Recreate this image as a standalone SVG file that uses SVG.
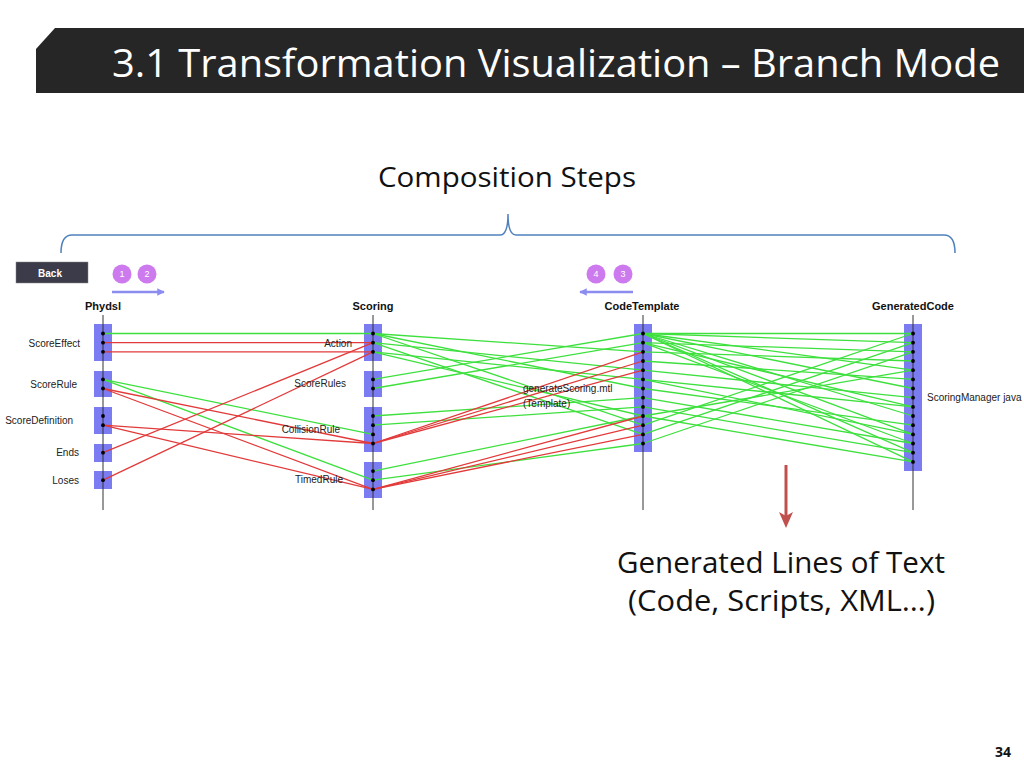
<svg xmlns="http://www.w3.org/2000/svg" width="1024" height="768" viewBox="0 0 1024 768">
<style>
.lbl{font-family:"Liberation Sans",Arial,sans-serif;font-size:10px;fill:#222}
.hdr{font-family:"Liberation Sans",Arial,sans-serif;font-size:11px;font-weight:bold;fill:#111;text-anchor:middle}
.blk{fill:#7b7bf2}
.axis{stroke:#333;stroke-width:1}
.g line{stroke:#3ee03e;stroke-width:1.3}
.r line{stroke:#e23a3a;stroke-width:1.3}
.dot{fill:#000}
.big{font-family:"Open Sans","Liberation Sans",sans-serif;fill:#111}
.circ{fill:#cc7aee}
.num{font-family:"Liberation Sans",Arial,sans-serif;font-size:9px;fill:#fff;text-anchor:middle}
</style>
<defs>
<marker id="ah" viewBox="0 0 10 10" refX="9" refY="5" markerWidth="3" markerHeight="3" orient="auto"><path d="M0,0 L10,5 L0,10 z" fill="#8c8cf0"/></marker>
</defs>
<rect width="1024" height="768" fill="#fff"/>
<g id="header">
<polygon points="55,28 1024,28 1024,93 36,93 36,49" fill="#262626"/>
<text x="112" y="77" font-family="'Open Sans','Liberation Sans',sans-serif" font-size="39" fill="#fff" textLength="888" lengthAdjust="spacingAndGlyphs">3.1 Transformation Visualization – Branch Mode</text>
</g>
<g id="composition">
<text class="big" x="378" y="187" font-size="28" textLength="258" lengthAdjust="spacingAndGlyphs">Composition Steps</text>
<path d="M61,253 Q61,235 72,235 L500,235 Q508,235 508,214 Q508,235 516,235 L944,235 Q955,235 955,253" fill="none" stroke="#4f81bd" stroke-width="1.5"/>
</g>
<g id="back"><rect x="16" y="262" width="72" height="21" fill="#3b3b4a" stroke="#888" stroke-width="0.5"/><text x="50" y="277" font-family="'Liberation Sans',Arial,sans-serif" font-size="10" font-weight="bold" fill="#fff" text-anchor="middle">Back</text></g>
<g id="steps">
<circle class="circ" cx="122" cy="274" r="9.5"/><text class="num" x="122" y="277">1</text>
<circle class="circ" cx="147" cy="274" r="9.5"/><text class="num" x="147" y="277">2</text>
<line x1="112" y1="292" x2="164" y2="292" stroke="#8c8cf0" stroke-width="2.5" marker-end="url(#ah)"/>
<circle class="circ" cx="596" cy="274" r="9.5"/><text class="num" x="596" y="277">4</text>
<circle class="circ" cx="623" cy="274" r="9.5"/><text class="num" x="623" y="277">3</text>
<line x1="633" y1="292" x2="580" y2="292" stroke="#8c8cf0" stroke-width="2.5" marker-end="url(#ah)"/>
</g>
<g id="phydsl">
<text class="hdr" x="103" y="310">Phydsl</text>
<rect class="blk" x="94" y="324" width="18" height="37"/>
<rect class="blk" x="94" y="371" width="18" height="26"/>
<rect class="blk" x="94" y="407" width="18" height="27"/>
<rect class="blk" x="94" y="444" width="18" height="18"/>
<rect class="blk" x="94" y="471" width="18" height="18"/>
<line class="axis" x1="103" y1="315" x2="103" y2="510"/>
<text class="lbl" x="80" y="347" text-anchor="end">ScoreEffect</text>
<text class="lbl" x="77" y="388" text-anchor="end">ScoreRule</text>
<text class="lbl" x="73" y="424" text-anchor="end">ScoreDefinition</text>
<text class="lbl" x="79" y="456" text-anchor="end">Ends</text>
<text class="lbl" x="79" y="484" text-anchor="end">Loses</text>
</g>
<g id="scoring">
<text class="hdr" x="373" y="310">Scoring</text>
<rect class="blk" x="364" y="324" width="18" height="37"/>
<rect class="blk" x="364" y="371" width="18" height="26"/>
<rect class="blk" x="364" y="407" width="18" height="45"/>
<rect class="blk" x="364" y="462" width="18" height="36"/>
<line class="axis" x1="373" y1="315" x2="373" y2="510"/>
</g>
<g id="codetemplate">
<text class="hdr" x="642" y="310">CodeTemplate</text>
<rect class="blk" x="634" y="324" width="18" height="128"/>
<line class="axis" x1="643" y1="315" x2="643" y2="510"/>
</g>
<g id="generatedcode">
<text class="hdr" x="913" y="310">GeneratedCode</text>
<rect class="blk" x="904" y="324" width="18" height="147"/>
<line class="axis" x1="913" y1="315" x2="913" y2="510"/>
<text class="lbl" x="927" y="401">ScoringManager java</text>
</g>
<g id="connectors">
<g class="g">
<line x1="103" y1="333.5" x2="373" y2="333.5"/>
<line x1="103" y1="379.4" x2="373" y2="434.4"/>
<line x1="103" y1="379.4" x2="373" y2="480.2"/>
<line x1="373" y1="333.5" x2="643" y2="351.8"/>
<line x1="373" y1="333.5" x2="643" y2="388.5"/>
<line x1="373" y1="333.5" x2="643" y2="425.2"/>
<line x1="373" y1="342.7" x2="643" y2="370.2"/>
<line x1="373" y1="342.7" x2="643" y2="434.4"/>
<line x1="373" y1="351.8" x2="643" y2="379.4"/>
<line x1="373" y1="351.8" x2="643" y2="416"/>
<line x1="373" y1="379.4" x2="643" y2="333.5"/>
<line x1="373" y1="388.5" x2="643" y2="342.7"/>
<line x1="373" y1="416" x2="643" y2="397.7"/>
<line x1="373" y1="425.2" x2="643" y2="406.9"/>
<line x1="373" y1="471.1" x2="643" y2="416"/>
<line x1="373" y1="480.2" x2="643" y2="443.5"/>
<line x1="643" y1="333.5" x2="913" y2="333.5"/>
<line x1="643" y1="333.5" x2="913" y2="342.7"/>
<line x1="643" y1="333.5" x2="913" y2="370.2"/>
<line x1="643" y1="333.5" x2="913" y2="388.5"/>
<line x1="643" y1="333.5" x2="913" y2="416"/>
<line x1="643" y1="333.5" x2="913" y2="434.4"/>
<line x1="643" y1="333.5" x2="913" y2="452.7"/>
<line x1="643" y1="333.5" x2="913" y2="461.9"/>
<line x1="643" y1="342.7" x2="913" y2="351.8"/>
<line x1="643" y1="342.7" x2="913" y2="406.9"/>
<line x1="643" y1="342.7" x2="913" y2="443.5"/>
<line x1="643" y1="351.8" x2="913" y2="361"/>
<line x1="643" y1="361" x2="913" y2="379.4"/>
<line x1="643" y1="370.2" x2="913" y2="397.7"/>
<line x1="643" y1="379.4" x2="913" y2="406.9"/>
<line x1="643" y1="379.4" x2="913" y2="434.4"/>
<line x1="643" y1="388.5" x2="913" y2="425.2"/>
<line x1="643" y1="397.7" x2="913" y2="443.5"/>
<line x1="643" y1="406.9" x2="913" y2="452.7"/>
<line x1="643" y1="416" x2="913" y2="461.9"/>
<line x1="643" y1="416" x2="913" y2="370.2"/>
<line x1="643" y1="425.2" x2="913" y2="333.5"/>
<line x1="643" y1="434.4" x2="913" y2="342.7"/>
<line x1="643" y1="443.5" x2="913" y2="351.8"/>
</g>
<g class="r">
<line x1="103" y1="342.7" x2="373" y2="342.7"/>
<line x1="103" y1="351.8" x2="373" y2="351.8"/>
<line x1="103" y1="388.5" x2="373" y2="443.5"/>
<line x1="103" y1="388.5" x2="373" y2="489.4"/>
<line x1="103" y1="425.2" x2="373" y2="443.5"/>
<line x1="103" y1="425.2" x2="373" y2="489.4"/>
<line x1="103" y1="452.7" x2="373" y2="342.7"/>
<line x1="103" y1="480.2" x2="373" y2="351.8"/>
<line x1="373" y1="443.5" x2="643" y2="351.8"/>
<line x1="373" y1="443.5" x2="643" y2="361"/>
<line x1="373" y1="443.5" x2="643" y2="370.2"/>
<line x1="373" y1="489.4" x2="643" y2="416"/>
<line x1="373" y1="489.4" x2="643" y2="425.2"/>
<line x1="373" y1="489.4" x2="643" y2="434.4"/>
</g>
</g>
<g id="dots">
<circle class="dot" cx="103" cy="333.5" r="1.9"/><circle class="dot" cx="103" cy="342.7" r="1.9"/><circle class="dot" cx="103" cy="351.8" r="1.9"/>
<circle class="dot" cx="103" cy="379.4" r="1.9"/><circle class="dot" cx="103" cy="388.5" r="1.9"/>
<circle class="dot" cx="103" cy="416" r="1.9"/><circle class="dot" cx="103" cy="425.2" r="1.9"/>
<circle class="dot" cx="103" cy="452.7" r="1.9"/><circle class="dot" cx="103" cy="480.2" r="1.9"/>
<circle class="dot" cx="373" cy="333.5" r="1.9"/><circle class="dot" cx="373" cy="342.7" r="1.9"/><circle class="dot" cx="373" cy="351.8" r="1.9"/>
<circle class="dot" cx="373" cy="379.4" r="1.9"/><circle class="dot" cx="373" cy="388.5" r="1.9"/>
<circle class="dot" cx="373" cy="416" r="1.9"/><circle class="dot" cx="373" cy="425.2" r="1.9"/><circle class="dot" cx="373" cy="434.4" r="1.9"/><circle class="dot" cx="373" cy="443.5" r="1.9"/>
<circle class="dot" cx="373" cy="471.1" r="1.9"/><circle class="dot" cx="373" cy="480.2" r="1.9"/><circle class="dot" cx="373" cy="489.4" r="1.9"/>
<circle class="dot" cx="643" cy="333.5" r="1.9"/><circle class="dot" cx="643" cy="342.7" r="1.9"/><circle class="dot" cx="643" cy="351.8" r="1.9"/><circle class="dot" cx="643" cy="361" r="1.9"/><circle class="dot" cx="643" cy="370.2" r="1.9"/><circle class="dot" cx="643" cy="379.4" r="1.9"/><circle class="dot" cx="643" cy="388.5" r="1.9"/><circle class="dot" cx="643" cy="397.7" r="1.9"/><circle class="dot" cx="643" cy="406.9" r="1.9"/><circle class="dot" cx="643" cy="416" r="1.9"/><circle class="dot" cx="643" cy="425.2" r="1.9"/><circle class="dot" cx="643" cy="434.4" r="1.9"/><circle class="dot" cx="643" cy="443.5" r="1.9"/>
<circle class="dot" cx="913" cy="333.5" r="1.9"/><circle class="dot" cx="913" cy="342.7" r="1.9"/><circle class="dot" cx="913" cy="351.8" r="1.9"/><circle class="dot" cx="913" cy="361" r="1.9"/><circle class="dot" cx="913" cy="370.2" r="1.9"/><circle class="dot" cx="913" cy="379.4" r="1.9"/><circle class="dot" cx="913" cy="388.5" r="1.9"/><circle class="dot" cx="913" cy="397.7" r="1.9"/><circle class="dot" cx="913" cy="406.9" r="1.9"/><circle class="dot" cx="913" cy="416" r="1.9"/><circle class="dot" cx="913" cy="425.2" r="1.9"/><circle class="dot" cx="913" cy="434.4" r="1.9"/><circle class="dot" cx="913" cy="443.5" r="1.9"/><circle class="dot" cx="913" cy="452.7" r="1.9"/><circle class="dot" cx="913" cy="461.9" r="1.9"/>
</g>
<g id="scoring-labels">
<text class="lbl" x="352" y="347" text-anchor="end">Action</text>
<text class="lbl" x="346" y="387" text-anchor="end">ScoreRules</text>
<text class="lbl" x="340" y="433" text-anchor="end">CollisionRule</text>
<text class="lbl" x="343" y="483" text-anchor="end">TimedRule</text>
<text class="lbl" x="523" y="392">generateScoring.mtl</text>
<text class="lbl" x="523" y="407">(Template)</text>
</g>
<g id="generated-note">
<line x1="786" y1="465" x2="786" y2="516" stroke="#c0504d" stroke-width="3"/>
<polygon points="779,512 786,516 793,512 786,528" fill="#c0504d"/>
<text class="big" x="617" y="573" font-size="29" textLength="328" lengthAdjust="spacingAndGlyphs">Generated Lines of Text</text>
<text class="big" x="628" y="611" font-size="29" textLength="307" lengthAdjust="spacingAndGlyphs">(Code, Scripts, XML…)</text>
</g>
<text x="1011" y="757" font-family="'Open Sans','Liberation Sans',sans-serif" font-size="14" font-weight="bold" fill="#111" text-anchor="end">34</text>
</svg>
